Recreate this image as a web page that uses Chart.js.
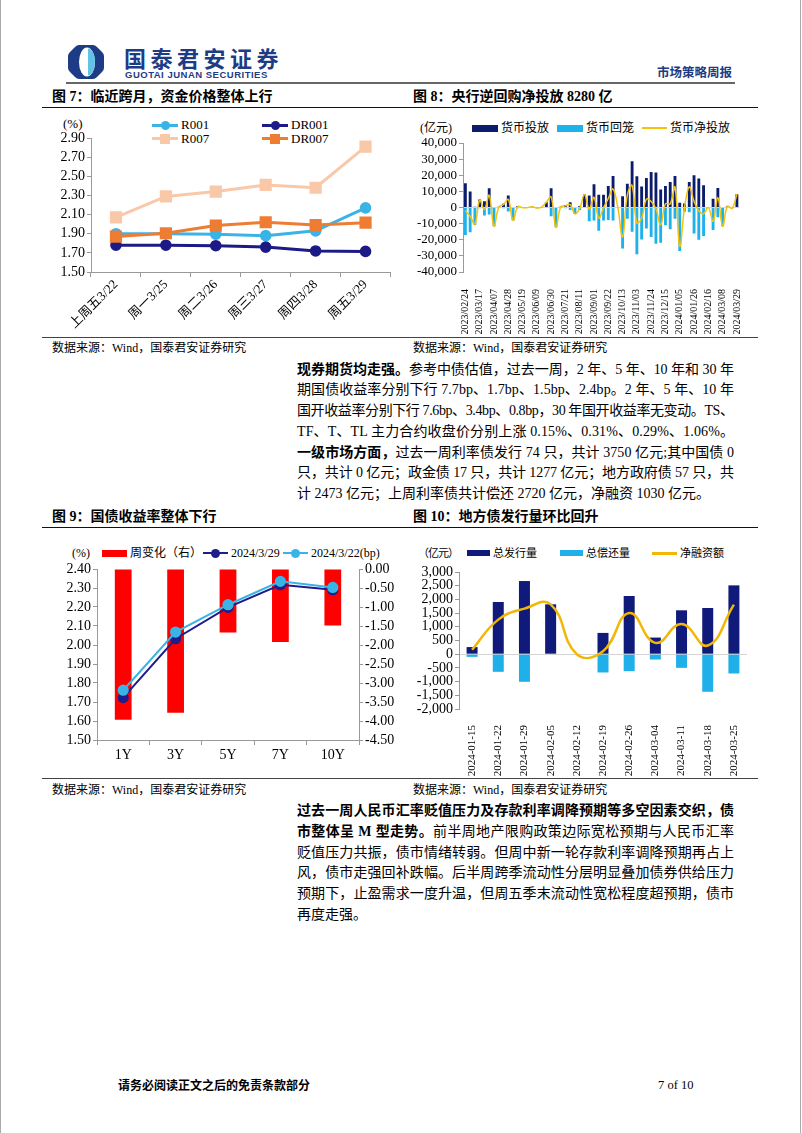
<!DOCTYPE html>
<html>
<head>
<meta charset="utf-8">
<script src="https://cdn.jsdelivr.net/npm/chart.js@4.4.1/dist/chart.umd.min.js"></script>
<style>
body { margin: 0; background: #fff; }
#page { position: relative; width: 802px; height: 1133px; overflow: hidden; background: #fff;
  font-family: "Liberation Serif", "Noto Sans CJK SC", serif; color: #000; }
.abs { position: absolute; }
.t { position: absolute; white-space: nowrap; }
.title { font-size: 14px; line-height: 18px; font-weight: bold; }
.src { font-size: 12px; line-height: 16px; }
.rule { position: absolute; left: 42px; width: 716px; height: 0; }
.lg { position: absolute; white-space: nowrap; line-height: 16px; }
.para { position: absolute; left: 297px; width: 437px; font-size: 14px; }
.ln { height: 20.8px; line-height: 20.8px; white-space: nowrap; }
.ln b { font-weight: bold; }
canvas { position: absolute; }
</style>
</head>
<body>
<div id="page">
  <div class="abs" style="left:0;top:0;width:1px;height:1133px;background:#aaa"></div>
  <div class="abs" style="left:800px;top:0;width:1px;height:1133px;background:#aaa"></div>

  <!-- header -->
  <svg class="abs" style="left:68px;top:45px" width="36" height="34" viewBox="0 0 36 34">
    <path d="M11 0 H25 Q27 0 29 2 L34 7 Q36 9 36 11 V23 Q36 25 34 27 L29 32 Q27 34 25 34 H11 Q9 34 7 32 L2 27 Q0 25 0 23 V11 Q0 9 2 7 L7 2 Q9 0 11 0 Z" fill="#1d3c85"/>
    <ellipse cx="19" cy="17" rx="8" ry="14.5" fill="#fff"/>
    <path d="M20 3.5 A7 13.5 0 0 1 20 30.5 Z" fill="#62c3e6"/>
  </svg>
  <div class="t" style="left:124px;top:44px;font-size:22px;line-height:26px;font-weight:bold;letter-spacing:4.5px;color:#1d3c85;font-family:'Noto Sans CJK SC'">国泰君安证券</div>
  <div class="t" style="left:125px;top:69px;font-size:9.5px;line-height:11px;font-weight:bold;letter-spacing:0.5px;color:#1d3c85;font-family:'Liberation Sans'">GUOTAI JUNAN SECURITIES</div>
  <div class="t" style="left:657px;top:65px;font-size:12.5px;line-height:16px;font-weight:bold;color:#1d3c85">市场策略周报</div>
  <div class="abs" style="left:66px;top:82px;width:669px;height:2px;background:#666"></div>

  <!-- row 1 titles -->
  <div class="t title" style="left:52px;top:88px">图 7：临近跨月，资金价格整体上行</div>
  <div class="t title" style="left:413px;top:88px">图 8：央行逆回购净投放 8280 亿</div>
  <div class="rule" style="top:106.5px;border-top:1.5px solid #111"></div>

  <!-- chart 7 legend -->
  <div class="lg" style="left:63px;top:116px;font-size:13px">(%)</div>
  <div class="abs" style="left:152px;top:123.5px;width:26px;height:3px;background:#3ab4e6"></div>
  <div class="abs" style="left:160.5px;top:120.5px;width:9px;height:9px;border-radius:50%;background:#3ab4e6"></div>
  <div class="lg" style="left:181px;top:117px;font-size:13px">R001</div>
  <div class="abs" style="left:262px;top:123.5px;width:26px;height:3px;background:#1c1a86"></div>
  <div class="abs" style="left:270.5px;top:120.5px;width:9px;height:9px;border-radius:50%;background:#1c1a86"></div>
  <div class="lg" style="left:291px;top:117px;font-size:13px">DR001</div>
  <div class="abs" style="left:152px;top:137px;width:26px;height:3px;background:#f9c8a8"></div>
  <div class="abs" style="left:160px;top:133.5px;width:10px;height:10px;background:#f9c8a8"></div>
  <div class="lg" style="left:181px;top:130.5px;font-size:13px">R007</div>
  <div class="abs" style="left:262px;top:137px;width:26px;height:3px;background:#ee7d33"></div>
  <div class="abs" style="left:270px;top:133.5px;width:10px;height:10px;background:#ee7d33"></div>
  <div class="lg" style="left:291px;top:130.5px;font-size:13px">DR007</div>

  <!-- chart 8 legend -->
  <div class="lg" style="left:420px;top:120px;font-size:12px">(亿元)</div>
  <div class="abs" style="left:472px;top:124.5px;width:26px;height:7px;background:#0c1c6c"></div>
  <div class="lg" style="left:501px;top:120px;font-size:12px">货币投放</div>
  <div class="abs" style="left:557px;top:124.5px;width:26px;height:7px;background:#1eb2ea"></div>
  <div class="lg" style="left:586px;top:120px;font-size:12px">货币回笼</div>
  <div class="abs" style="left:642px;top:127px;width:25px;height:2px;background:#f4c20d"></div>
  <div class="lg" style="left:670px;top:120px;font-size:12px">货币净投放</div>

  <canvas id="c7" width="358" height="225" style="left:42px;top:110px"></canvas>
  <canvas id="c8" width="356" height="225" style="left:402px;top:110px"></canvas>

  <div class="rule" style="top:336.5px;border-top:1.5px solid #444"></div>
  <div class="t src" style="left:52px;top:340px">数据来源：Wind，国泰君安证券研究</div>
  <div class="t src" style="left:413px;top:340px">数据来源：Wind，国泰君安证券研究</div>

  <div class="para" style="top:359.5px">
    <div class="ln"><span><b>现券期货均走强。</b>参考中债估值，过去一周，2 年、5 年、10 年和 30 年</span></div>
    <div class="ln"><span>期国债收益率分别下行 7.7bp、1.7bp、1.5bp、2.4bp。2 年、5 年、10 年</span></div>
    <div class="ln"><span>国开收益率分别下行 7.6bp、3.4bp、0.8bp，30 年国开收益率无变动。TS、</span></div>
    <div class="ln"><span>TF、T、TL 主力合约收盘价分别上涨 0.15%、0.31%、0.29%、1.06%。</span></div>
    <div class="ln"><span><b>一级市场方面，</b>过去一周利率债发行 74 只，共计 3750 亿元;其中国债 0</span></div>
    <div class="ln"><span>只，共计 0 亿元；政金债 17 只，共计 1277 亿元；地方政府债 57 只，共</span></div>
    <div class="ln last"><span>计 2473 亿元；上周利率债共计偿还 2720 亿元，净融资 1030 亿元。</span></div>
  </div>

  <!-- row 2 titles -->
  <div class="t title" style="left:52px;top:508px">图 9：国债收益率整体下行</div>
  <div class="t title" style="left:413px;top:508px">图 10：地方债发行量环比回升</div>
  <div class="rule" style="top:526.5px;border-top:1.5px solid #111"></div>

  <!-- chart 9 legend -->
  <div class="lg" style="left:72px;top:545px;font-size:12px">(%)</div>
  <div class="abs" style="left:102px;top:549.5px;width:25px;height:7px;background:#ff0000"></div>
  <div class="lg" style="left:130px;top:545px;font-size:12px">周变化（右）</div>
  <div class="abs" style="left:203px;top:552px;width:25px;height:2px;background:#1f1d8c"></div>
  <div class="abs" style="left:211px;top:548.5px;width:9px;height:9px;border-radius:50%;background:#1f1d8c"></div>
  <div class="lg" style="left:231px;top:545px;font-size:12px">2024/3/29</div>
  <div class="abs" style="left:283px;top:552px;width:25px;height:2px;background:#3ab4e6"></div>
  <div class="abs" style="left:291px;top:548.5px;width:9px;height:9px;border-radius:50%;background:#3ab4e6"></div>
  <div class="lg" style="left:311px;top:545px;font-size:12px">2024/3/22(bp)</div>

  <!-- chart 10 legend -->
  <div class="lg" style="left:418px;top:545px;font-size:11px;letter-spacing:-1px">（亿元）</div>
  <div class="abs" style="left:467px;top:550px;width:23px;height:6px;background:#101a7a"></div>
  <div class="lg" style="left:493px;top:545px;font-size:11px">总发行量</div>
  <div class="abs" style="left:560px;top:550px;width:23px;height:6px;background:#1fb0ea"></div>
  <div class="lg" style="left:586px;top:545px;font-size:11px">总偿还量</div>
  <div class="abs" style="left:652px;top:552px;width:25px;height:2.5px;background:#f2b705"></div>
  <div class="lg" style="left:680px;top:545px;font-size:11px">净融资额</div>

  <canvas id="c9" width="358" height="246" style="left:42px;top:530px"></canvas>
  <canvas id="c10" width="356" height="246" style="left:402px;top:530px"></canvas>

  <div class="rule" style="top:777.5px;border-top:1.5px solid #444"></div>
  <div class="t src" style="left:52px;top:782px">数据来源：Wind，国泰君安证券研究</div>
  <div class="t src" style="left:413px;top:782px">数据来源：Wind，国泰君安证券研究</div>

  <div class="para" style="top:801px">
    <div class="ln"><span><b>过去一周人民币汇率贬值压力及存款利率调降预期等多空因素交织，债</b></span></div>
    <div class="ln"><span><b>市整体呈 M 型走势。</b>前半周地产限购政策边际宽松预期与人民币汇率</span></div>
    <div class="ln"><span>贬值压力共振，债市情绪转弱。但周中新一轮存款利率调降预期再占上</span></div>
    <div class="ln"><span>风，债市走强回补跌幅。后半周跨季流动性分层明显叠加债券供给压力</span></div>
    <div class="ln"><span>预期下，止盈需求一度升温，但周五季末流动性宽松程度超预期，债市</span></div>
    <div class="ln last"><span>再度走强。</span></div>
  </div>

  <div class="t" style="left:118px;top:1078px;font-size:12px;line-height:16px;font-weight:bold">请务必阅读正文之后的免责条款部分</div>
  <div class="t" style="left:658px;top:1077px;font-size:12.5px;line-height:16px">7 of 10</div>
</div>

<script>
// 图7 资金价格
const cat7 = ['上周五3/22', '周一3/25', '周二3/26', '周三3/27', '周四3/28', '周五3/29'];
const r001 = [1.90, 1.90, 1.895, 1.88, 1.93, 2.17];
const dr001 = [1.78, 1.78, 1.775, 1.76, 1.72, 1.715];
const r007 = [2.07, 2.29, 2.34, 2.41, 2.38, 2.81];
const dr007 = [1.87, 1.905, 1.985, 2.02, 1.99, 2.015];
const ticks7 = [1.50, 1.70, 1.90, 2.10, 2.30, 2.50, 2.70, 2.90];

// 图8 央行逆回购（亿元），每周
const dates8 = [
  '2023/02/24', '2023/03/03', '2023/03/10', '2023/03/17', '2023/03/24', '2023/03/31',
  '2023/04/07', '2023/04/14', '2023/04/21', '2023/04/28', '2023/05/05', '2023/05/12',
  '2023/05/19', '2023/05/26', '2023/06/02', '2023/06/09', '2023/06/16', '2023/06/23',
  '2023/06/30', '2023/07/07', '2023/07/14', '2023/07/21', '2023/07/28', '2023/08/04',
  '2023/08/11', '2023/08/18', '2023/08/25', '2023/09/01', '2023/09/08', '2023/09/15',
  '2023/09/22', '2023/09/29', '2023/10/06', '2023/10/13', '2023/10/20', '2023/10/27',
  '2023/11/03', '2023/11/10', '2023/11/17', '2023/11/24', '2023/12/01', '2023/12/08',
  '2023/12/15', '2023/12/22', '2023/12/29', '2024/01/05', '2024/01/12', '2024/01/19',
  '2024/01/26', '2024/02/02', '2024/02/09', '2024/02/16', '2024/02/23', '2024/03/01',
  '2024/03/08', '2024/03/15', '2024/03/22', '2024/03/29'
];
const inject8 = [
  15000, 10000, 500, 5000, 3800, 12000, 0, 500, 2300, 7500, 0, 1000,
  200, 100, 600, 100, 300, 3300, 12000, 0, 500, 1500, 3300, 0,
  1000, 8100, 7500, 14400, 7900, 7900, 13300, 19600, 0, 7000, 14800, 28700,
  19400, 13100, 18300, 22000, 21700, 11200, 13300, 15800, 19600, 2900, 2500, 15800,
  20000, 18000, 13800, 0, 5400, 12100, 0, 800, 0, 8280
];
const drain8 = [
  -17000, -15400, -10800, -500, -5000, -4400, -11700, -300, -500, -2500, -8000, -500,
  -300, -200, -100, -400, -100, 0, -5400, -12300, -200, -500, -1500, -4000,
  -1500, 0, -8500, -8100, -14400, -8100, -7700, -8100, 0, -25400, -7000, -15000,
  -29000, -19800, -13100, -18300, -22500, -21900, -11000, -13500, -6900, -27000, -2700, -3000,
  -16200, -20000, -17700, 0, -14000, -6000, -11700, 0, -500, 0
];
const net8 = [
  -2000, -5400, -10300, 4500, -1200, 7600, -11700, 200, 1800, 5000, -8000, 500,
  -100, -100, 500, -300, 200, 3300, 6600, -12300, 300, 1000, 1800, -4000,
  -500, 8100, -1000, 6300, -6500, -200, 5600, 11500, 0, -18400, 7800, 13700,
  -9600, -6700, 5200, 3700, -800, -10700, 2300, 2300, 12700, -24100, -200, 12800,
  3800, -2000, -3900, 0, -8600, 6100, -11700, 800, -500, 8280
];
const ticks8 = [-40000, -30000, -20000, -10000, 0, 10000, 20000, 30000, 40000];

// 图9 国债收益率
const cat9 = ['1Y', '3Y', '5Y', '7Y', '10Y'];
const chg9 = [-3.97, -3.78, -1.67, -1.92, -1.49];
const y0329 = [1.723, 2.033, 2.198, 2.317, 2.291];
const y0322 = [1.762, 2.068, 2.212, 2.335, 2.303];
const ticks9L = [1.50, 1.60, 1.70, 1.80, 1.90, 2.00, 2.10, 2.20, 2.30, 2.40];
const ticks9R = [-4.50, -4.00, -3.50, -3.00, -2.50, -2.00, -1.50, -1.00, -0.50, 0.00];

// 图10 地方债（亿元）
const cat10 = ['2024-01-15', '2024-01-22', '2024-01-29', '2024-02-05', '2024-02-12', '2024-02-19',
  '2024-02-26', '2024-03-04', '2024-03-11', '2024-03-18', '2024-03-25'];
const issue10 = [260, 1905, 2670, 1820, 0, 777, 2124, 607, 1602, 1687, 2512];
const repay10 = [-97, -643, -1007, 0, 0, -667, -619, -194, -498, -1371, -704];
const net10 = [163, 1262, 1663, 1820, 0, 110, 1505, 413, 1104, 316, 1808];
const ticks10 = [-2000, -1500, -1000, -500, 0, 500, 1000, 1500, 2000, 2500, 3000];

Chart.defaults.font.family = '"Liberation Serif", "Noto Sans CJK SC", serif';
Chart.defaults.color = '#000';
Chart.defaults.animation = false;
Chart.defaults.responsive = false;
Chart.defaults.plugins.legend.display = false;
Chart.defaults.plugins.tooltip.enabled = false;

const AX = '#999';
const fixTicks = arr => s => { s.ticks = arr.map(v => ({value: v})); };
const zeroGrid = ctx => (ctx.tick && ctx.tick.value === 0) ? '#d4d4d4' : 'rgba(0,0,0,0)';
const comma = v => v.toLocaleString('en-US');

new Chart(document.getElementById('c7'), {
  type: 'line',
  data: {
    labels: cat7,
    datasets: [
      {data: r001, borderColor: '#3ab4e6', backgroundColor: '#3ab4e6', borderWidth: 3, pointRadius: 4.3, order: 4},
      {data: dr001, borderColor: '#1c1a86', backgroundColor: '#1c1a86', borderWidth: 3, pointRadius: 4.3, order: 3},
      {data: r007, borderColor: '#f9c8a8', backgroundColor: '#f9c8a8', borderWidth: 3, pointStyle: 'rect', pointRadius: 6.5, order: 2},
      {data: dr007, borderColor: '#ee7d33', backgroundColor: '#ee7d33', borderWidth: 3, pointStyle: 'rect', pointRadius: 6.5, order: 1}
    ]
  },
  options: {
    layout: {padding: {top: 28, right: 2}},
    scales: {
      x: {
        offset: true,
        grid: {offset: true, drawOnChartArea: false, tickLength: 5, color: AX},
        border: {color: AX},
        ticks: {maxRotation: 45, minRotation: 45, padding: 0, font: {size: 13}},
        afterFit: s => { s.height = 63; }
      },
      y: {
        min: 1.5, max: 2.9,
        afterBuildTicks: fixTicks(ticks7),
        ticks: {autoSkip: false, callback: v => v.toFixed(2), font: {size: 14}, padding: 2},
        grid: {drawOnChartArea: false, tickLength: 4, color: AX},
        border: {color: AX},
        afterFit: s => { s.width = 49; }
      }
    }
  }
});

new Chart(document.getElementById('c8'), {
  type: 'bar',
  data: {
    labels: dates8,
    datasets: [
      {type: 'line', data: net8, borderColor: '#f4c20d', borderWidth: 1.5, pointRadius: 0, tension: 0.4, order: 1},
      {data: inject8, backgroundColor: '#0c1c6c', grouped: false, barPercentage: 0.6, categoryPercentage: 1, order: 2},
      {data: drain8, backgroundColor: '#1eb2ea', grouped: false, barPercentage: 0.6, categoryPercentage: 1, order: 3}
    ]
  },
  options: {
    layout: {padding: {top: 33, right: 11}},
    scales: {
      x: {
        grid: {display: false},
        border: {display: false},
        ticks: {autoSkip: false, maxRotation: 90, minRotation: 90, padding: 9, font: {size: 10},
          callback: (v, i) => (i % 3 === 0 ? dates8[i] : '')},
        afterFit: s => { s.height = 63; }
      },
      y: {
        min: -40000, max: 40000,
        afterBuildTicks: fixTicks(ticks8),
        ticks: {autoSkip: false, callback: comma, font: {size: 13}, padding: 2},
        grid: {color: zeroGrid, tickColor: AX, tickLength: 4},
        border: {color: AX},
        afterFit: s => { s.width = 61; }
      }
    }
  }
});

new Chart(document.getElementById('c9'), {
  type: 'bar',
  data: {
    labels: cat9,
    datasets: [
      {type: 'line', data: y0322, yAxisID: 'y', borderColor: '#3ab4e6', backgroundColor: '#3ab4e6', borderWidth: 2, pointRadius: 4.6, order: 1},
      {type: 'line', data: y0329, yAxisID: 'y', borderColor: '#1f1d8c', backgroundColor: '#1f1d8c', borderWidth: 2, pointRadius: 4.6, order: 2},
      {data: chg9, yAxisID: 'y2', backgroundColor: '#ff0000', barPercentage: 0.32, categoryPercentage: 1, order: 3}
    ]
  },
  options: {
    layout: {padding: {top: 39}},
    scales: {
      x: {
        grid: {offset: true, drawOnChartArea: false, tickLength: 5, color: AX},
        border: {color: AX},
        ticks: {font: {size: 14}, padding: 2},
        afterFit: s => { s.height = 36; }
      },
      y: {
        position: 'left', min: 1.5, max: 2.4,
        afterBuildTicks: fixTicks(ticks9L),
        ticks: {autoSkip: false, callback: v => v.toFixed(2), font: {size: 14}, padding: 2},
        grid: {drawOnChartArea: false, tickLength: 4, color: AX},
        border: {color: AX},
        afterFit: s => { s.width = 55; }
      },
      y2: {
        position: 'right', min: -4.5, max: 0,
        afterBuildTicks: fixTicks(ticks9R),
        ticks: {autoSkip: false, callback: v => v.toFixed(2), font: {size: 14}, padding: 2},
        grid: {drawOnChartArea: false, tickLength: 4, color: AX},
        border: {color: AX},
        afterFit: s => { s.width = 41; }
      }
    }
  }
});

new Chart(document.getElementById('c10'), {
  type: 'bar',
  data: {
    labels: cat10,
    datasets: [
      {type: 'line', data: net10, borderColor: '#f2b705', borderWidth: 2.5, pointRadius: 0, tension: 0.45, order: 1},
      {data: issue10, backgroundColor: '#101a7a', grouped: false, barPercentage: 0.42, categoryPercentage: 1, order: 2},
      {data: repay10, backgroundColor: '#1fb0ea', grouped: false, barPercentage: 0.42, categoryPercentage: 1, order: 3}
    ]
  },
  options: {
    layout: {padding: {top: 42, right: 11}},
    scales: {
      x: {
        grid: {display: false},
        border: {display: false},
        ticks: {autoSkip: false, maxRotation: 90, minRotation: 90, padding: 8, font: {size: 11}},
        afterFit: s => { s.height = 67; }
      },
      y: {
        min: -2000, max: 3000,
        afterBuildTicks: fixTicks(ticks10),
        ticks: {autoSkip: false, callback: comma, font: {size: 14}, padding: 2},
        grid: {color: zeroGrid, tickColor: AX, tickLength: 4},
        border: {color: AX},
        afterFit: s => { s.width = 57; }
      }
    }
  }
});

// 正文逐行两端对齐
const W = 437;
document.querySelectorAll('.ln').forEach(el => {
  const span = el.firstElementChild;
  const w = span.getBoundingClientRect().width;
  const n = span.textContent.length;
  if (el.classList.contains('last') && w <= W) return;
  el.style.letterSpacing = ((W - w) / (n - 1)) + 'px';
});
</script>
</body>
</html>
